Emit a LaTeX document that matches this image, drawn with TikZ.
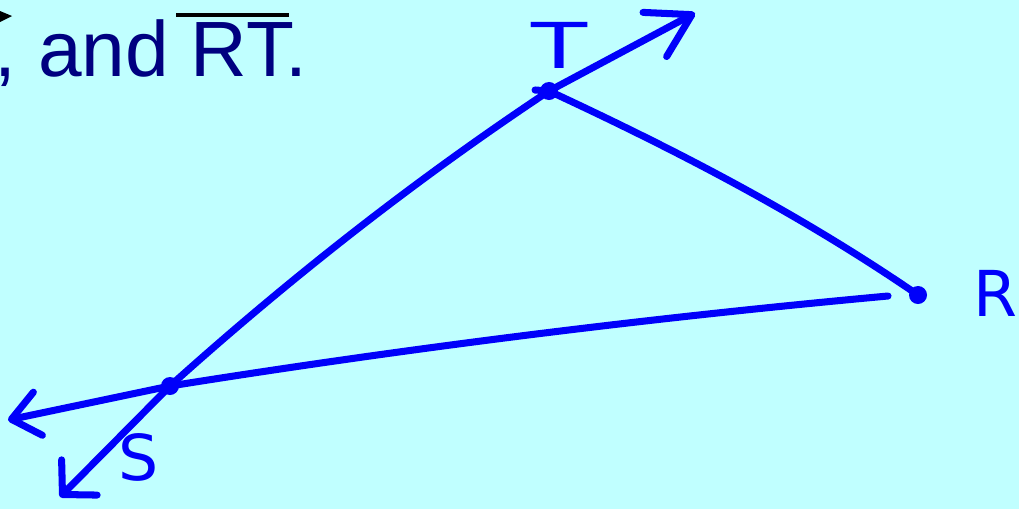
\documentclass[tikz,border=0pt]{standalone}
\usepackage{fontspec}
\setmainfont{Liberation Sans}
\newfontfamily\handfont{DejaVu Sans}
\usetikzlibrary{arrows.meta}

\definecolor{paper}{RGB}{192,255,255}
\definecolor{ink}{RGB}{0,0,250}
\definecolor{navytext}{RGB}{0,0,128}

\tikzset{
  pen/.style={draw=ink, line width=2pt, line cap=round, line join=round},
  ptlabel/.style={text=ink, font=\handfont\fontsize{18}{20}\selectfont, inner sep=0pt}
}

\begin{document}
\begin{tikzpicture}[x=0.01cm, y=-0.01cm]
            % Background and frame
            \fill[paper] (0,0) rectangle (1019,509);
            \useasboundingbox (0,0) rectangle (1019,509);

            % Text left over from the slide
            \fill[black] (0,11) -- (12,16) -- (0,22) -- cycle;
            \node[anchor=base west, inner sep=0pt, text=navytext,
                  font=\fontsize{22.3}{26}\selectfont] (caption) at (-6,76) {, and RT.};
            \draw[black, line width=1pt] (176,15) -- (289,15);

            % The three points
            \coordinate (T) at (549,91);
            \coordinate (R) at (918,295);
            \coordinate (S) at (170,386);

            % Free ends of the rays
            \coordinate (tend) at (695,13);
            \coordinate (sleft) at (8,420);
            \coordinate (sdown) at (60,497);
            \coordinate (rend) at (888,296);
            \coordinate (ttick) at (535,90);

            % Sides of the triangle
            \draw[pen] (S) .. controls (289,279) and (415,180) .. (T);
            \draw[pen] (ttick) -- (T) .. controls (676,150) and (800,214) .. (R);
            \draw[pen] (S) .. controls (408,348) and (648,318) .. (rend);

            % Rays
            \draw[pen, -{Straight Barb[round, length=4.2mm, width=5mm]}] (T) -- (tend);
            \draw[pen, -{Straight Barb[round, length=2.7mm, width=4.4mm]}] (S) -- (sleft);
            \draw[pen, -{Straight Barb[round, length=2.4mm, width=5mm]}] (S) -- (sdown);

            % Dots
            \foreach \p in {S,T,R}
                {
                    \fill[ink] (\p) circle (0.09cm);
                }

            % Labels
            \node[ptlabel, xscale=1.45] (tlabel) at (560,45) {T};
            \node[ptlabel] (slabel) at (139,457) {S};
            \node[ptlabel, anchor=east] (rlabel) at (1018,293) {R};

        \end{tikzpicture}
\end{document}
